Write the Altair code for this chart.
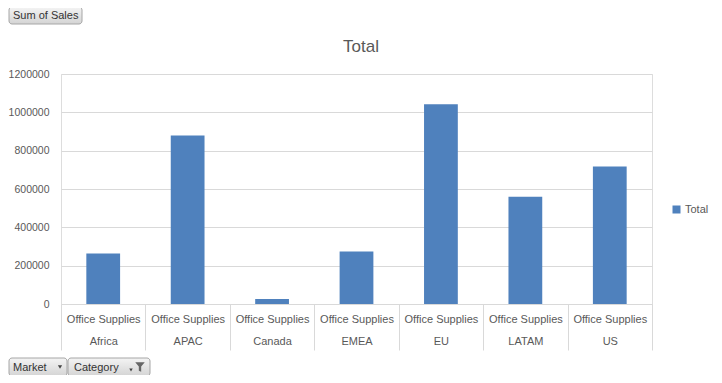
import altair as alt
import pandas as pd

# ---- data ----
markets = ["Africa", "APAC", "Canada", "EMEA", "EU", "LATAM", "US"]
categories = ["Office Supplies"] * 7
sales = [263000, 879000, 26000, 274000, 1042000, 559500, 717000]
series_name = "Total"
chart_title = ["Total"]
y_ticks = [0, 200000, 400000, 600000, 800000, 1000000, 1200000]
value_button = ["Sum of Sales"]
axis_buttons = ["Market", "Category"]

FONT = "Liberation Sans"
GREY = "#595959"
GRID = "#d9d9d9"
BLUE = "#4F81BD"

df = pd.DataFrame({"Market": markets, "Category": categories, "Sales": sales,
                   "Series": [series_name] * len(markets)})
df["Key"] = df["Category"] + "|" + df["Market"]
order = list(df["Key"])

bars = alt.Chart(df).mark_bar(width=alt.RelativeBandSize(0.4)).encode(
    x=alt.X("Key:N", sort=order,
            scale=alt.Scale(paddingInner=0, paddingOuter=0),
            axis=alt.Axis(title=None, labelAngle=0, labelExpr="split(datum.label, '|')",
                          labelLineHeight=22, labelPadding=-37, labelBaseline="top",
                          tickBand="extent", tickSize=46, tickColor=GRID, domainColor=GRID,
                          labelColor=GREY, labelFontSize=11, labelFont=FONT,
                          labelOverlap=False, grid=False)),
    y=alt.Y("Sales:Q", scale=alt.Scale(domain=[0, 1200000], nice=False),
            axis=alt.Axis(title=None, values=y_ticks, format="d", domain=False, ticks=False,
                          tickSize=0, labelPadding=12, gridColor=GRID, labelColor=GREY,
                          labelFontSize=10.5, labelFont=FONT)),
    color=alt.Color("Series:N", scale=alt.Scale(range=[BLUE]),
                    legend=alt.Legend(title=None, orient="none", legendX=610, legendY=130,
                                      symbolType="square", symbolSize=64, padding=0,
                                      labelFont=FONT, labelFontSize=11, labelColor=GREY,
                                      symbolStrokeWidth=0, labelOffset=3)),
)

title = alt.Chart(alt.Data(values=[{"t": chart_title[0]}])).mark_text(
    align="center", baseline="middle", font=FONT, fontSize=17, color=GREY).encode(
    x=alt.value(300), y=alt.value(-27), text="t:N")

grad = alt.Gradient(gradient="linear", x1=0, y1=0, x2=0, y2=1,
                    stops=[alt.GradientStop(color="#f4f4f4", offset=0),
                           alt.GradientStop(color="#d4d4d4", offset=1)])


def button(label, x0, x1, y0, y1, tx):
    d = alt.Data(values=[{"t": label}])
    r = alt.Chart(d).mark_rect(cornerRadius=3, fill=grad, stroke="#a6a6a6", strokeWidth=1).encode(
        x=alt.value(x0), x2=alt.value(x1), y=alt.value(y0), y2=alt.value(y1))
    t = alt.Chart(d).mark_text(align="left", baseline="middle", font=FONT, fontSize=11,
                               color="#333333").encode(
        x=alt.value(tx), y=alt.value((y0 + y1) / 2 + 0.5), text="t:N")
    return r + t


b1 = button(value_button[0], -52, 21, -67, -50, -48)
b2 = button(axis_buttons[0], -52, 6, 284, 302, -48)
b3 = button(axis_buttons[1], 7, 89, 284, 302, 13)

arrows = alt.Chart(alt.Data(values=[{"k": 0}])).mark_point(
    shape="triangle-down", filled=True, color="#444444", size=18, opacity=1).encode(
    x=alt.value(-1), y=alt.value(293))
arrow2 = alt.Chart(alt.Data(values=[{"k": 0}])).mark_point(
    shape="triangle-down", filled=True, color="#444444", size=12, opacity=1).encode(
    x=alt.value(70), y=alt.value(296))
funnel = alt.Chart(alt.Data(values=[{"k": 0}])).mark_point(
    shape="M-1,-1L1,-1L0.25,-0.1L0.25,1L-0.25,0.8L-0.25,-0.1Z", filled=True,
    color="#666666", size=90, opacity=1).encode(
    x=alt.value(79), y=alt.value(293))

chart = alt.layer(bars, title, b1, b2, b3, arrows, arrow2, funnel).properties(
    width=591, height=230,
    autosize=alt.AutoSizeParams(type="none"),
    padding={"left": 53, "top": 66, "right": 62, "bottom": 71},
).configure_view(stroke=None).configure(background="white")

chart.save("out.html", embed_options={"renderer": "svg", "actions": False})
